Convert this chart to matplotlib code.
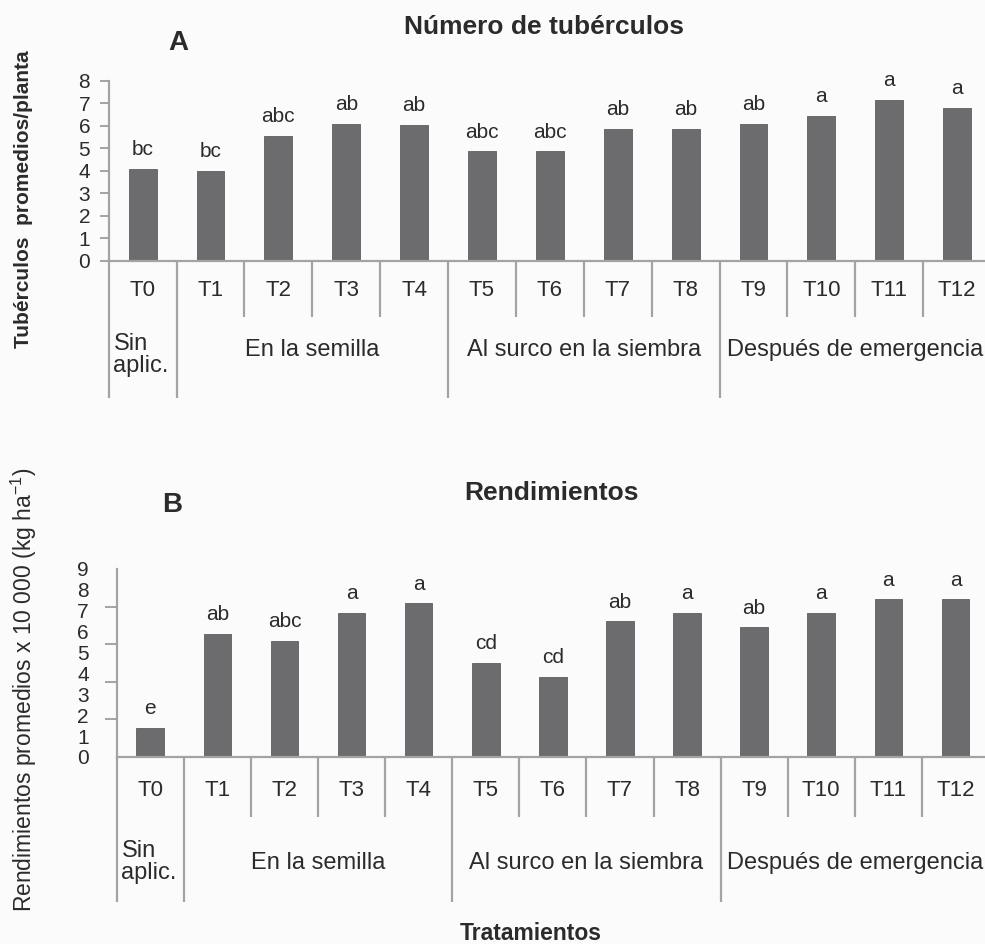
import matplotlib.pyplot as plt
import matplotlib.transforms as mtransforms
import numpy as np

plt.rcParams['font.family'] = ['Liberation Sans', 'DejaVu Sans']

W, H = 985, 944

treatments = ['T0', 'T1', 'T2', 'T3', 'T4', 'T5', 'T6', 'T7', 'T8', 'T9', 'T10', 'T11', 'T12']
groups = ['Sin\naplic.', 'En la semilla', 'Al surco en la siembra', 'Después de emergencia']
group_spans = [(-0.5, 0.5), (0.5, 4.5), (4.5, 8.5), (8.5, 12.5)]

tuber_count = [4.1, 4.0, 5.55, 6.1, 6.05, 4.87, 4.87, 5.87, 5.87, 6.1, 6.45, 7.15, 6.8]
tuber_letters = ['bc', 'bc', 'abc', 'ab', 'ab', 'abc', 'abc', 'ab', 'ab', 'ab', 'a', 'a', 'a']

yield_vals = [1.4, 5.9, 5.55, 6.9, 7.35, 4.5, 3.82, 6.5, 6.9, 6.2, 6.9, 7.55, 7.55]
yield_letters = ['e', 'ab', 'abc', 'a', 'a', 'cd', 'cd', 'ab', 'a', 'ab', 'a', 'a', 'a']

bar_color = '#6c6c6e'
line_color = '#a3a3a3'
text_color = '#2b2b2b'


def fx(px):
    return px / W


def fy(py):
    return 1 - py / H


fig = plt.figure(figsize=(W / 100, H / 100), dpi=100, facecolor='#fbfbfb')


def panel(rect, values, letters, ymax, tick_y, short_y, tall_y, group_y, sin_y):
    ax = fig.add_axes(rect)
    ax.set_facecolor('none')
    x = np.arange(len(values))
    ax.bar(x, values, width=0.41, color=bar_color, edgecolor='#5e5e60', linewidth=0.6)
    for xi, v, lab in zip(x, values, letters):
        ax.annotate(lab, (xi, v), xytext=(0, 7), textcoords='offset points',
                    ha='center', va='bottom', fontsize=15, color=text_color)
    ax.set_xlim(-0.5, 12.5)
    ax.set_ylim(0, ymax)
    for s in ['top', 'right']:
        ax.spines[s].set_visible(False)
    for s in ['left', 'bottom']:
        ax.spines[s].set_color(line_color)
        ax.spines[s].set_linewidth(1.6)
    ax.set_xticks([])

    trans = mtransforms.blended_transform_factory(ax.transData, fig.transFigure)
    base = rect[1]
    # treatment names under the axis
    for xi, name in zip(x, treatments):
        ax.text(xi, fy(tick_y), name, transform=trans, ha='center', va='center',
                fontsize=16, color=text_color)
    # separators between treatments and groups
    tall = [-0.5, 0.5, 4.5, 8.5]
    for b in np.arange(-0.5, 12.5, 1.0):
        y_end = fy(tall_y) if b in tall else fy(short_y)
        ax.plot([b, b], [base, y_end], transform=trans, color=line_color,
                linewidth=1.6, clip_on=False, solid_capstyle='butt')
    # application group names
    for g, (a, b) in zip(groups, group_spans):
        if '\n' in g:
            ax.text(a + 0.07, fy(sin_y), g, transform=trans, ha='left', va='center',
                    multialignment='left', fontsize=17, color=text_color,
                    linespacing=1.0)
        else:
            ax.text((a + b) / 2, fy(group_y), g, transform=trans, ha='center',
                    va='center', fontsize=17, color=text_color)
    return ax


# A: number of tubers
axA = panel([fx(108.7), fy(260.7), fx(991 - 108.7), (260.7 - 81) / H],
            tuber_count, tuber_letters, 8, 290, 317, 398, 350, 355)
axA.set_yticks(range(0, 9))
axA.tick_params(axis='y', length=6.3, width=1.4, color=line_color, labelsize=15,
                labelcolor=text_color, pad=7)

# B: yields
axB = panel([fx(116.7), fy(757), fx(989 - 116.7), (757 - 569) / H],
            yield_vals, yield_letters, 9, 790, 817, 902, 863, 862)
axB.set_yticks(range(0, 10))
axB.tick_params(axis='y', which='major', length=0, labelsize=15,
                labelcolor=text_color, pad=20)
axB.set_yticks(np.linspace(0, 9, 6), minor=True)
axB.tick_params(axis='y', which='minor', length=8.4, width=1.4, color=line_color)

fig.text(fx(544), fy(27), 'Número de tubérculos', ha='center', va='center',
         fontsize=19, fontweight='bold', color=text_color)
fig.text(fx(178), fy(43), 'A', ha='center', va='center', fontsize=20,
         fontweight='bold', color=text_color)
fig.text(fx(24), fy(199), 'Tubérculos  promedios/planta', rotation=90,
         ha='center', va='center', fontsize=15, fontweight='bold', color=text_color)

fig.text(fx(552), fy(493), 'Rendimientos', ha='center', va='center',
         fontsize=19, fontweight='bold', color=text_color)
fig.text(fx(172), fy(505), 'B', ha='center', va='center', fontsize=20,
         fontweight='bold', color=text_color)
fig.text(fx(24), fy(690), 'Rendimientos promedios x 10 000 (kg ha$^{\\mathregular{-1}}$)',
         rotation=90, ha='center', va='center', fontsize=16.5, color=text_color)

fig.text(fx(531), fy(933), 'Tratamientos', ha='center', va='center',
         fontsize=16.5, fontweight='bold', color=text_color)

fig.savefig('out.png', dpi=100, facecolor=fig.get_facecolor())
